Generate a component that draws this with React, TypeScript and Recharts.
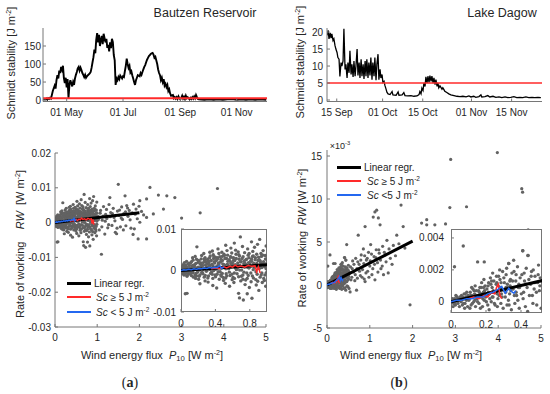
import React from 'react';
import { ComposedChart, Line, Scatter, XAxis, YAxis, ReferenceLine } from 'recharts';

type Pt = [number, number];

// ---------- top row: Schmidt stability [J m-2] vs day of year ----------
const bautzenSc: Pt[] = [
  [95.5, 2], [98, 2], [99, 4], [100, 1], [101, 5], [102, 3], [103, 6], [104, 4], [105, 14], [106, 25],
  [108, 40], [109, 32], [110, 55], [111, 69], [112, 60], [113, 82], [114, 75], [115, 92], [116, 84], [117, 95],
  [118, 61], [119, 47], [120, 62], [121, 35], [122, 58], [123, 6], [124, 42], [125, 55], [127, 38], [128, 50],
  [129, 42], [130, 60], [131, 70], [132, 78], [133, 88], [134, 92], [135, 82], [136, 90], [137, 83], [138, 75],
  [139, 70], [140, 64], [141, 70], [142, 62], [143, 66], [144, 69], [146, 74], [147, 78], [148, 90], [149, 105],
  [150, 119], [151, 140], [152, 130], [153, 167], [154, 186], [155, 160], [156, 181], [157, 150], [158, 167], [159, 178],
  [160, 155], [161, 184], [163, 160], [164, 170], [165, 145], [166, 153], [167, 135], [168, 160], [169, 144], [170, 170],
  [171, 161], [172, 125], [173, 110], [174, 42], [175, 60], [176, 55], [177, 64], [178, 58], [179, 68], [181, 60],
  [182, 66], [183, 64], [184, 80], [185, 95], [186, 115], [187, 100], [188, 89], [189, 95], [190, 76], [191, 80],
  [192, 69], [193, 60], [194, 50], [195, 42], [196, 55], [197, 62], [198, 69], [200, 66], [201, 75], [202, 70],
  [203, 78], [204, 85], [205, 92], [206, 97], [207, 105], [208, 112], [209, 117], [210, 122], [211, 125], [212, 128],
  [213, 130], [214, 131], [215, 126], [216, 117], [217, 120], [219, 100], [220, 85], [221, 75], [222, 69], [223, 55],
  [224, 62], [225, 50], [226, 58], [227, 40], [228, 45], [229, 36], [230, 42], [231, 25], [232, 30], [233, 18],
  [234, 12], [236, 14], [237, 5], [238, 8], [239, 4], [240, 8], [241, 3], [242, 10], [243, 5], [244, 2],
  [245, 6], [246, 12], [247, 4], [248, 9], [249, 3], [250, 12], [251, 5], [252, 8], [254, 2], [255, 6],
  [256, 3], [257, 8], [258, 4], [259, 10], [260, 5], [261, 14], [262, 8], [263, 3], [264, 2], [270, 1],
  [275, 2], [280, 1], [285, 2], [290, 1], [295, 2], [300, 3], [305, 1], [310, 2], [315, 1], [320, 2],
  [325, 1], [330, 2], [337, 1],
];
const bautzenTicks = [121, 182, 244, 305];
const bautzenTickLabels = ['01 May', '01 Jul', '01 Sep', '01 Nov'];

const dagowSc: Pt[] = [
  [254.6, 19], [255.0, 20.5], [255.3, 18], [255.7, 19.8], [256.0, 18.2], [256.3, 19.5], [256.7, 17.5], [257.0, 18],
  [257.4, 16], [257.7, 15], [258.1, 14], [258.4, 12.5], [258.8, 12], [259.1, 6.9], [259.5, 11], [259.8, 10],
  [260.2, 11.5], [260.5, 21], [260.9, 9], [261.2, 10.5], [261.6, 6.5], [261.9, 11], [262.3, 8], [262.6, 14.5],
  [263.0, 7.5], [263.3, 10.5], [263.7, 6.8], [264.0, 11.5], [264.4, 7], [264.7, 10], [265.1, 15], [265.4, 7.2],
  [265.8, 11], [266.1, 6.5], [266.5, 12], [266.8, 7], [267.2, 10.5], [267.5, 6.2], [267.9, 11.5], [268.2, 7],
  [268.5, 12], [268.9, 6.5], [269.2, 11], [269.6, 7.2], [269.9, 12.5], [270.3, 6], [270.6, 11], [271.0, 7],
  [271.3, 12.5], [271.7, 5.8], [272.0, 10.5], [272.4, 13.5], [272.7, 6], [273.1, 9], [273.4, 6.5], [273.8, 7.5],
  [274.1, 5.2], [274.5, 5.5], [274.8, 4.3], [275.2, 3.2], [275.5, 2.3], [275.9, 1.8], [276.6, 1.6], [277.3, 2.5],
  [277.6, 1.5], [278.7, 1.4], [279.4, 2.4], [279.7, 1.4], [280.8, 1.5], [281.4, 2.2], [281.8, 1.3], [282.8, 1.2],
  [283.9, 1.3], [284.9, 1.1], [286.0, 1.2], [286.7, 1.6], [287.0, 2.5], [287.4, 1.8], [287.7, 3.5], [288.1, 2.8],
  [288.4, 5], [288.8, 4], [289.1, 6.8], [289.5, 5], [289.8, 7], [290.2, 5.2], [290.5, 7.2], [290.9, 5.5],
  [291.2, 7], [291.6, 5], [291.9, 6.5], [292.3, 4.5], [292.6, 6], [293.0, 4], [293.3, 5], [293.6, 3.6],
  [294.0, 4.2], [294.7, 3.2], [295.0, 3.6], [295.7, 2.6], [296.4, 2.2], [297.1, 1.8], [297.8, 1.5], [298.9, 1.3],
  [299.9, 1.1], [301.0, 1.0], [302.0, 1.1], [303.1, 0.9], [304.1, 1.2], [304.8, 0.9], [305.8, 1.1], [306.5, 0.8],
  [307.6, 1.0], [308.3, 1.5], [308.6, 0.9], [309.7, 1.0], [310.7, 1.3], [311.4, 0.9], [312.5, 1.1], [313.5, 0.8],
  [314.6, 0.9], [315.6, 0.7], [316.7, 0.9], [317.7, 0.7], [318.7, 0.8], [319.8, 1.0], [320.8, 0.7], [321.9, 0.8],
  [322.9, 0.7], [324.0, 0.9], [325.0, 0.7], [326.1, 0.8], [327.1, 0.7], [328.2, 0.8], [329.2, 0.7],
];
const dagowTicks = [258, 274, 288, 305, 319];
const dagowTickLabels = ['15 Sep', '01 Oct', '15 Oct', '01 Nov', '15 Nov'];
const scThreshold = 5;

// ---------- bottom row: rate of working RW vs wind energy flux P10 [W m-2] ----------
const bautzenRW: Pt[] = [
  [0.01, 0.0002], [0.02, -0.0008], [0.03, 0.0011], [0.015, 0.0005], [0.04, -0.0003], [0.025, 0.0014], [0.035, -0.0011], [0.045, 0.0007], [0.005, -0.0004], [0.04, 0.0019],
  [0.06, 0.0009], [0.07, -0.0014], [0.08, 0.0016], [0.055, -0.0006], [0.09, 0.0003], [0.065, 0.0022], [0.085, -0.0009], [0.095, 0.0012], [0.075, 0.0001], [0.07, -0.0055],
  [0.11, 0.0018], [0.12, -0.0012], [0.13, 0.0006], [0.14, 0.0025], [0.105, -0.0002], [0.125, 0.0011], [0.145, -0.0016], [0.135, 0.0031], [0.115, 0.0004], [0.14, -0.0005],
  [0.16, 0.0014], [0.17, -0.0019], [0.18, 0.0027], [0.19, 0.0002], [0.155, 0.0009], [0.175, -0.0007], [0.185, 0.0057], [0.195, 0.0019], [0.165, 0.0034], [0.18, -0.0013], [0.2, 0.0008],
  [0.21, 0.0023], [0.22, -0.0011], [0.23, 0.0005], [0.24, 0.0036], [0.205, -0.0021], [0.225, 0.0015], [0.245, -0.0004], [0.235, 0.0028], [0.215, 0.0001], [0.24, 0.0011], [0.22, -0.0032],
  [0.26, 0.0019], [0.27, -0.0016], [0.28, 0.0031], [0.29, 0.0007], [0.255, -0.0008], [0.275, 0.0024], [0.295, -0.0002], [0.285, 0.0013], [0.265, 0.0041], [0.28, -0.0025], [0.3, 0.0016],
  [0.31, 0.0027], [0.32, -0.0013], [0.33, 0.0009], [0.34, 0.0035], [0.305, 0.0001], [0.325, 0.0019], [0.345, -0.0007], [0.335, 0.0044], [0.315, -0.0028], [0.34, 0.0012], [0.32, 0.0023],
  [0.36, 0.0015], [0.37, -0.0019], [0.38, 0.0029], [0.39, 0.0006], [0.355, -0.0004], [0.375, 0.0038], [0.395, -0.0011], [0.385, 0.0021], [0.365, 0.0047], [0.38, 0.0], [0.4, 0.0032], [0.37, -0.0036],
  [0.41, 0.0024], [0.42, -0.0009], [0.43, 0.0013], [0.44, 0.0041], [0.405, 0.0003], [0.425, 0.0031], [0.445, -0.0021], [0.435, 0.0018], [0.415, -0.0042], [0.44, 0.0008], [0.43, 0.0052],
  [0.46, 0.0021], [0.47, -0.0014], [0.48, 0.0034], [0.49, 0.0009], [0.455, -0.0003], [0.475, 0.0044], [0.495, -0.0024], [0.485, 0.0016], [0.465, 0.0027], [0.48, -0.0007], [0.5, 0.0039],
  [0.51, 0.0012], [0.52, -0.0018], [0.53, 0.0029], [0.54, 0.0005], [0.505, 0.0036], [0.525, -0.0008], [0.545, 0.0022], [0.535, 0.0048], [0.515, -0.0031], [0.54, 0.0015], [0.52, 0.0061],
  [0.56, 0.0026], [0.57, -0.0012], [0.58, 0.0017], [0.59, 0.0042], [0.555, 0.0004], [0.575, 0.0033], [0.595, -0.0022], [0.585, 0.0009], [0.565, -0.0038], [0.58, 0.0054], [0.6, 0.0019],
  [0.61, 0.0031], [0.62, -0.0006], [0.63, 0.0014], [0.64, 0.0039], [0.605, -0.0017], [0.625, 0.0024], [0.645, 0.0002], [0.635, 0.0049], [0.615, -0.0029], [0.64, 0.0011], [0.62, 0.0066],
  [0.66, 0.0018], [0.67, -0.0015], [0.68, 0.0035], [0.69, 0.0081], [0.655, 0.0006], [0.675, 0.0027], [0.695, -0.0025], [0.685, 0.0012], [0.665, 0.0045], [0.67, -0.0055], [0.7, 0.0021], [0.68, -0.0066],
  [0.71, 0.0029], [0.72, -0.0011], [0.73, 0.0016], [0.74, 0.0043], [0.705, 0.0001], [0.725, -0.0071], [0.745, -0.0034], [0.735, 0.0023], [0.715, 0.0058], [0.74, 0.0008], [0.72, -0.0021],
  [0.76, 0.0014], [0.77, -0.0019], [0.78, 0.0037], [0.79, 0.0006], [0.755, 0.0026], [0.775, 0.0052], [0.795, -0.0041], [0.785, 0.0019], [0.765, -0.0006], [0.79, 0.0031], [0.77, -0.0056],
  [0.81, 0.0023], [0.82, 0.0069], [0.83, -0.0013], [0.84, 0.0035], [0.805, 0.0009], [0.825, -0.0067], [0.845, 0.0017], [0.835, 0.0046], [0.815, -0.0027], [0.84, 0.0002], [0.82, 0.0028],
  [0.86, 0.0015], [0.87, -0.0022], [0.88, 0.0039], [0.89, 0.0008], [0.855, 0.0056], [0.875, -0.0035], [0.895, 0.0024], [0.885, -0.0009], [0.865, 0.0031], [0.89, 0.0063], [0.87, 0.0011],
  [0.91, 0.0026], [0.92, -0.0016], [0.93, 0.0041], [0.94, 0.0007], [0.905, -0.0048], [0.925, 0.0019], [0.945, -0.0029], [0.935, 0.0034], [0.915, 0.0075], [0.94, -0.0006], [0.92, 0.0012],
  [0.96, 0.0021], [0.97, -0.0024], [0.98, 0.0036], [0.99, 0.0004], [0.955, 0.0048], [0.975, -0.0011], [0.995, 0.0027], [0.985, -0.0038], [0.965, 0.0014], [0.99, 0.0059],
  [0.012, 0.0009], [0.022, -0.0002], [0.032, 0.0004], [0.047, -0.0009], [0.052, 0.0013], [0.062, -0.0001], [0.072, 0.0007], [0.082, -0.0004], [0.092, 0.0017], [0.102, 0.0005],
  [0.112, -0.0008], [0.122, 0.0021], [0.132, -0.0003], [0.142, 0.0013], [0.152, 0.0002], [0.162, -0.0011], [0.172, 0.0017], [0.182, 0.0006], [0.192, -0.0004], [0.202, 0.0024],
  [0.212, -0.0014], [0.222, 0.0007], [0.232, 0.0018], [0.242, -0.0006], [0.252, 0.0012], [0.262, 0.0003], [0.272, 0.0028], [0.282, -0.0012], [0.292, 0.0021], [0.302, 0.0008],
  [0.312, -0.0018], [0.322, 0.0014], [0.332, 0.0031], [0.342, 0.0002], [0.352, 0.0024], [0.362, -0.0009], [0.372, 0.0011], [0.382, 0.0034], [0.392, 0.0018], [0.402, -0.0015],
  [0.412, 0.0009], [0.422, 0.0027], [0.432, -0.0003], [0.442, 0.0016], [0.452, 0.0033], [0.462, -0.0011], [0.472, 0.0006], [0.482, 0.0024], [0.492, -0.0017], [0.502, 0.0014],
  [0.512, 0.0029], [0.522, 0.0004], [0.532, -0.0013], [0.542, 0.0037], [0.552, 0.0011], [0.562, -0.0004], [0.572, 0.0022], [0.582, 0.0032], [0.592, -0.0009], [0.602, 0.0013],
  [0.612, 0.0025], [0.622, -0.0019], [0.632, 0.0006], [0.642, 0.0029], [0.652, -0.0008], [0.662, 0.0012], [0.672, 0.0038], [0.682, 0.0001], [0.692, 0.0021], [0.702, -0.0014],
  [0.712, 0.0009], [0.722, 0.0033], [0.732, -0.0004], [0.742, 0.0018], [0.752, -0.0023], [0.762, 0.0027], [0.772, 0.0008], [0.782, -0.0012], [0.792, 0.0041], [0.802, 0.0016],
  [0.812, -0.0006], [0.822, 0.0022], [0.832, 0.0034], [0.842, -0.0018], [0.852, 0.0008], [0.862, 0.0026], [0.872, -0.0003], [0.882, 0.0017], [0.892, -0.0026], [0.902, 0.0032],
  [0.912, 0.0005], [0.922, 0.0023], [0.932, -0.0011], [0.942, 0.0015], [0.952, 0.0037], [0.962, -0.0019], [0.972, 0.0009], [0.982, 0.0028], [0.992, -0.0005], [0.998, 0.0018],
  [1.02, 0.0018], [1.05, -0.0021], [1.08, 0.0035], [1.1, -0.0091], [1.12, 0.0007], [1.15, 0.0046], [1.18, -0.0033], [1.2, 0.0024], [1.23, 0.0012], [1.25, -0.0015],
  [1.28, 0.0052], [1.3, 0.0072], [1.32, 0.0029], [1.35, -0.0008], [1.38, 0.0041], [1.4, 0.0015], [1.43, -0.0028], [1.46, -0.0032], [1.48, 0.0033], [1.5, 0.011],
  [1.52, 0.0021], [1.55, -0.0012], [1.58, 0.0045], [1.6, 0.0009], [1.63, 0.0026], [1.66, 0.0077], [1.68, -0.0009], [1.7, 0.0049], [1.73, 0.0018], [1.76, 0.0035],
  [1.8, -0.0016], [1.83, 0.0028], [1.86, 0.0053], [1.88, -0.0018], [1.92, 0.0039], [1.95, 0.0011], [1.97, -0.0047], [2.01, 0.0063], [2.01, 0.0001], [2.05, 0.0032],
  [1.03, 0.0009], [1.07, 0.0027], [1.11, -0.0012], [1.14, 0.0019], [1.19, 0.0004], [1.22, 0.0038], [1.27, -0.0006], [1.31, 0.0017], [1.36, 0.0026], [1.42, 0.0005],
  [1.47, -0.0016], [1.53, 0.0036], [1.57, 0.0013], [1.62, -0.0021], [1.67, 0.0031], [1.72, 0.0042], [1.78, 0.0008], [1.85, -0.0034], [1.9, 0.0024], [1.99, 0.0047],
  [2.1, 0.0022], [2.17, 0.0068], [2.17, 0.0015], [2.17, -0.0047], [2.25, 0.0101], [2.33, 0.0025], [2.45, 0.0079], [2.57, 0.0039], [2.65, 0.0077], [2.84, 0.0072],
  [3.0, 0.0013], [3.44, 0.0028], [3.85, 0.0098], [0.05, -0.0056],
];
const bautzenRegr: Pt[] = [[0, 0], [2, 0.0028]];
const bautzenHighSc: Pt[] = [
  [0.35, 0.0004], [0.4, 0.0006], [0.45, 0.0005], [0.5, 0.0009], [0.53, 0.0006], [0.57, 0.001], [0.6, 0.0008], [0.63, 0.0013], [0.66, 0.0009],
  [0.7, 0.0011], [0.74, 0.0008], [0.78, 0.0012], [0.82, 0.001], [0.86, 0.0011], [0.88, -0.0003], [0.9, 0.0009], [0.92, -0.0006],
];
const bautzenLowSc: Pt[] = [
  [0, 0], [0.03, 0.0002], [0.06, 0.0001], [0.09, 0.0003], [0.12, 0.0002], [0.15, 0.0004], [0.18, 0.0003], [0.21, 0.0005], [0.24, 0.0004],
  [0.27, 0.0006], [0.3, 0.0005], [0.33, 0.0007], [0.36, 0.0006], [0.39, 0.0008], [0.42, 0.0007], [0.45, 0.0012], [0.47, 0.0005], [0.5, 0.0009],
];

const dagowRW: Pt[] = [
  [0.005, 0.0], [0.01, 0.0001], [0.015, -0.0001], [0.02, 0.0002], [0.025, -0.0002], [0.03, 0.0001], [0.035, 0.0003], [0.04, -0.0001], [0.045, 0.0002], [0.012, -0.0003], [0.028, 0.0004], [0.038, 0.0], [0.048, -0.0003], [0.02, 0.0022],
  [0.055, 0.0001], [0.06, 0.0004], [0.065, -0.0002], [0.07, 0.0002], [0.075, 0.0005], [0.08, -0.0001], [0.085, 0.0003], [0.09, 0.0006], [0.095, -0.0003], [0.058, 0.0], [0.068, 0.0003], [0.078, -0.0004], [0.088, 0.0001], [0.098, 0.0004],
  [0.105, 0.0002], [0.11, 0.0006], [0.115, -0.0002], [0.12, 0.0004], [0.125, 0.0008], [0.13, 0.0], [0.135, 0.0005], [0.14, -0.0003], [0.145, 0.0007], [0.108, -0.0004], [0.118, 0.0009], [0.128, 0.0003], [0.138, 0.001], [0.148, 0.0002],
  [0.155, 0.0004], [0.16, -0.0001], [0.165, 0.0009], [0.17, 0.0003], [0.175, 0.0012], [0.18, -0.0003], [0.185, 0.0006], [0.19, 0.0001], [0.195, 0.001], [0.152, 0.0025], [0.158, 0.0007], [0.168, -0.0004], [0.178, 0.0005], [0.188, 0.0014], [0.198, 0.0003],
  [0.205, 0.0008], [0.21, -0.0002], [0.215, 0.0012], [0.22, 0.0005], [0.225, 0.0015], [0.23, 0.0], [0.235, 0.0009], [0.24, 0.0003], [0.245, 0.0013], [0.208, 0.0004], [0.218, -0.0005], [0.228, 0.0011], [0.238, 0.0018], [0.248, -0.0001], [0.232, 0.0006],
  [0.255, 0.0006], [0.26, 0.0016], [0.265, -0.0003], [0.27, 0.001], [0.275, 0.0004], [0.28, 0.0014], [0.285, -0.0001], [0.29, 0.0008], [0.295, 0.0019], [0.258, 0.0011], [0.268, 0.0002], [0.278, 0.002], [0.288, 0.0005], [0.298, -0.0004], [0.272, 0.0007],
  [0.305, 0.0012], [0.31, 0.0003], [0.315, 0.0017], [0.32, -0.0002], [0.325, 0.0009], [0.33, 0.0024], [0.335, 0.0005], [0.34, 0.0014], [0.345, -0.0005], [0.308, 0.0007], [0.318, 0.0021], [0.328, 0.0001], [0.338, 0.001], [0.348, 0.0018],
  [0.355, 0.0008], [0.36, 0.0019], [0.365, -0.0001], [0.37, 0.0013], [0.375, 0.0004], [0.38, 0.0022], [0.385, 0.0009], [0.39, -0.0004], [0.395, 0.0015], [0.358, 0.0026], [0.372, 0.0006], [0.388, 0.0011],
  [0.405, 0.0017], [0.41, 0.0032], [0.415, 0.0006], [0.42, 0.0013], [0.425, -0.0003], [0.43, 0.0021], [0.435, 0.0009], [0.44, 0.0029], [0.445, 0.0014], [0.412, 0.0002], [0.438, -0.0006],
  [0.455, 0.0011], [0.46, 0.0019], [0.465, 0.0004], [0.47, 0.002], [0.475, 0.0008], [0.48, 0.0016], [0.49, -0.0002], [0.495, 0.0012], [0.5, 0.0023], [0.505, 0.0007], [0.51, 0.0015], [0.515, -0.0004],
  [0.008, 0.0002], [0.018, 0.0], [0.022, -0.0001], [0.032, 0.0002], [0.042, 0.0001], [0.052, 0.0003], [0.062, 0.0002], [0.072, -0.0001], [0.082, 0.0005], [0.092, 0.0002],
  [0.102, 0.0001], [0.112, 0.0004], [0.122, -0.0001], [0.132, 0.0007], [0.142, 0.0004], [0.152, 0.0], [0.162, 0.0006], [0.172, 0.0009], [0.182, 0.0002], [0.192, 0.0007],
  [0.202, 0.0], [0.212, 0.001], [0.222, 0.0002], [0.232, 0.0013], [0.242, 0.0007], [0.252, -0.0002], [0.262, 0.0012], [0.272, 0.0016], [0.282, 0.0009], [0.292, 0.0003],
  [0.302, 0.0015], [0.312, 0.0006], [0.322, 0.0011], [0.332, -0.0002], [0.342, 0.0007], [0.352, 0.0013], [0.362, 0.0004], [0.372, 0.0017], [0.382, 0.0001], [0.392, 0.0009],
  [0.402, 0.0005], [0.418, 0.0018], [0.428, 0.0011], [0.448, 0.0004], [0.458, 0.0016], [0.468, -0.0001], [0.478, 0.0012], [0.488, 0.0006], [0.498, 0.0017], [0.508, 0.001],
  [0.114, 0.0003], [0.136, 0.0001], [0.164, 0.0003], [0.186, 0.0009], [0.214, 0.0006], [0.236, 0.0003], [0.264, 0.0005], [0.286, 0.0012], [0.314, 0.0009], [0.336, 0.0013],
  [0.54, -0.0008], [0.55, 0.0021], [0.58, 0.0009], [0.6, 0.0028], [0.62, 0.0015], [0.65, 0.0005], [0.67, 0.0031], [0.69, -0.0006], [0.7, 0.0019], [0.73, 0.0058],
  [0.75, 0.0024], [0.78, 0.0011], [0.8, 0.0035], [0.83, 0.0018], [0.85, 0.0042], [0.87, 0.0007], [0.89, 0.0068], [0.89, 0.0004], [0.92, 0.0029], [0.95, 0.0016],
  [0.97, 0.0038], [1.0, 0.0022], [1.02, 0.0047], [1.05, 0.0012], [1.08, 0.0079], [1.1, 0.0033], [1.12, 0.0006], [1.12, 0.0085], [1.15, 0.0041], [1.16, 0.0087],
  [1.18, 0.0026], [1.2, 0.0078], [1.22, 0.0037], [1.24, 0.007], [1.26, 0.0019], [1.3, 0.0045], [1.32, 0.0012], [1.36, 0.0035], [1.4, 0.0052], [1.43, 0.0014],
  [0.52, 0.0013], [0.56, 0.0006], [0.59, 0.0019], [0.63, 0.0024], [0.66, 0.0012], [0.71, 0.0008], [0.72, 0.0027], [0.76, 0.0016], [0.79, 0.0029], [0.82, 0.0009],
  [0.86, 0.0025], [0.88, 0.0034], [0.91, 0.0014], [0.94, 0.0031], [0.98, 0.0009], [1.01, 0.0028], [1.04, 0.0036], [1.07, 0.0019], [1.11, 0.0024], [1.14, 0.0032],
  [1.19, 0.0015], [1.21, 0.0041], [1.25, 0.0029], [1.29, 0.0022], [1.34, 0.0038], [1.38, 0.0027], [1.45, 0.0042], [1.52, 0.0024], [1.6, 0.0034], [1.68, 0.0048],
  [1.48, 0.0031], [1.55, 0.0046], [1.63, 0.0058], [1.73, 0.0093], [1.78, 0.0068], [1.82, 0.0043], [1.94, -0.0023], [2.21, 0.0072], [2.33, 0.0076], [2.33, 0.007],
  [2.52, 0.007], [2.77, 0.0071], [2.87, 0.009], [2.89, 0.0146], [3.26, 0.0091], [3.98, 0.0154], [4.55, 0.0112], [4.57, 0.0108], [4.7, 0.0064], [0.46, 0.0047],
  [0.07, 0.0035], [0.19, 0.0025], [0.33, 0.0024], [0.41, 0.0032], [0.44, 0.0029],
];
const dagowRegr: Pt[] = [[0, 0], [2, 0.0051]];
const dagowHighSc: Pt[] = [
  [0.1, 0.0002], [0.13, 0.0003], [0.16, 0.0002], [0.19, 0.0004], [0.21, 0.0003], [0.23, 0.0006], [0.25, 0.0005], [0.26, 0.0009], [0.27, 0.0011], [0.28, 0.0004], [0.29, 0.0002],
];
const dagowLowSc: Pt[] = [
  [0, 0], [0.03, 0.0001], [0.06, 0.0001], [0.09, 0.0002], [0.12, 0.0002], [0.15, 0.0003], [0.18, 0.0003], [0.21, 0.0005], [0.24, 0.0006],
  [0.27, 0.0008], [0.29, 0.00096], [0.31, 0.00054], [0.33, 0.00085], [0.35, 0.0006], [0.36, 0.00054], [0.37, 0.0007],
];

const p10Ticks = [0, 1, 2, 3, 4, 5];
const bautzenRWTicks = [-0.03, -0.02, -0.01, 0, 0.01, 0.02];
const dagowRWTicks = [-0.005, 0, 0.005, 0.01, 0.015];

// ---------- layout ----------
const W = 550;
const H = 394;
const Y_W = 30;
const X_H = 20;
const FONT = '"Liberation Sans", Arial, Helvetica, sans-serif';
const AXIS = '#767676';
const INK = '#262626';
const RED = '#ff2a2a';
const BLUE = '#2468f0';
const tick = { fontSize: 10, fill: INK, fontFamily: FONT };

const xy = (pts: Pt[]) => pts.map(([x, y]) => ({ x, y }));
const inside = (pts: Pt[], xd: number[], yd: number[]) =>
  pts.filter(([x, y]) => x >= xd[0] && x <= xd[1] && y >= yd[0] && y <= yd[1]);
const dot = (r: number) => (p: any) => <circle cx={p.cx} cy={p.cy} r={r} fill="#626262" />;

// one plot area; "bare" draws only the series (used to stack lines above the dots)
function Panel(props: any) {
  const { box, xDomain, yDomain, xTicks, yTicks, xFmt, yFmt, xMargin, yMargin, axisLine = true, bare = false, children } = props;
  const [l, t, r, b] = box;
  return (
    <div style={{ position: 'absolute', left: 0, top: 0 }}>
      <ComposedChart width={W} height={H} margin={{ left: l - Y_W, top: t, right: W - r, bottom: H - b - X_H }}>
        <XAxis type="number" dataKey="x" domain={xDomain} ticks={xTicks} tickFormatter={xFmt} interval={0}
          allowDataOverflow height={X_H} tickSize={-3} tickMargin={xMargin} stroke={AXIS}
          axisLine={!bare && axisLine} tickLine={!bare} tick={bare ? false : tick} />
        <YAxis type="number" dataKey="y" domain={yDomain} ticks={yTicks} tickFormatter={yFmt} interval={0}
          allowDataOverflow width={Y_W} tickSize={-3} tickMargin={yMargin} stroke={AXIS}
          axisLine={!bare && axisLine} tickLine={!bare} tick={bare ? false : tick} />
        {children}
      </ComposedChart>
    </div>
  );
}

const Fits = ({ regr, high, low }: any) => [
  <Line key="r" data={xy(regr)} dataKey="y" stroke="#000" strokeWidth={3} dot={false} isAnimationActive={false} />,
  <Line key="h" data={xy(high)} dataKey="y" stroke={RED} strokeWidth={1.5} dot={false} isAnimationActive={false} />,
  <Line key="l" data={xy(low)} dataKey="y" stroke={BLUE} strokeWidth={1.5} dot={false} isAnimationActive={false} />,
];

const Txt = ({ x, y, size = 11, rot = false, family = FONT, children }: any) => (
  <div style={{
    position: 'absolute', left: x, top: y, whiteSpace: 'nowrap', fontSize: size, fontFamily: family, color: INK,
    lineHeight: 1, transform: `translate(-50%, -50%)${rot ? ' rotate(-90deg)' : ''}`,
  }}>{children}</div>
);

const sup = { fontSize: '0.65em', verticalAlign: '0.55em', lineHeight: 0 };
const sub = { fontSize: '0.7em', verticalAlign: '-0.35em', lineHeight: 0 };
const Unit = ({ u }: any) => <span>[{u} m<span style={sup}>-2</span>]</span>;

const LegendRow = ({ x, y, color, thick, gap, children }: any) => (
  <div style={{ position: 'absolute', left: x, top: y - 7, height: 14, display: 'flex', alignItems: 'center',
    fontSize: 10, fontFamily: FONT, color: INK, whiteSpace: 'nowrap' }}>
    <span style={{ display: 'inline-block', width: 24, height: thick, background: color, marginRight: gap }} />
    <span>{children}</span>
  </div>
);

const InsetFrame = ({ box }: any) => (
  <div style={{ position: 'absolute', left: box[0], top: box[1], width: box[2] - box[0], height: box[3] - box[1],
    background: '#fff', boxShadow: `inset 0 0 0 1px ${AXIS}` }} />
);

const mainABox = [55, 153, 266, 327];
const mainAX = [0, 5];
const mainAY = [-0.03, 0.02];
const mainBBox = [327, 150, 541, 328];
const mainBX = [0, 5];
const mainBY = [-0.005, 0.0157];
const insetABox = [181, 229, 267, 312];
const insetAX = [0, 1];
const insetAY = [-0.01, 0.01];
const insetBBox = [451, 229, 542, 313];
const insetBX = [0, 0.52];
const insetBY = [-0.0007, 0.00456];

export default function App() {
  return (
    <div style={{ position: 'absolute', left: 0, top: 0, width: W, height: H, background: '#fff', overflow: 'hidden' }}>
      {/* Bautzen time series */}
      <Panel box={[43, 28, 267, 101.5]} xDomain={[95.4, 337.8]} yDomain={[-4, 200]} xTicks={bautzenTicks}
        xFmt={(v: number) => bautzenTickLabels[bautzenTicks.indexOf(v)]} yTicks={[0, 50, 100, 150]} xMargin={10} yMargin={5}>
        <Line data={xy(bautzenSc)} dataKey="y" type="linear" stroke="#000" strokeWidth={1.9} dot={false} isAnimationActive={false} />
        <ReferenceLine y={scThreshold} stroke={RED} strokeWidth={1.8} />
      </Panel>
      {/* Dagow time series */}
      <Panel box={[327, 28, 542, 101.5]} xDomain={[254.6, 329.6]} yDomain={[-0.44, 21.2]} xTicks={dagowTicks}
        xFmt={(v: number) => dagowTickLabels[dagowTicks.indexOf(v)]} yTicks={[0, 5, 10, 15, 20]} xMargin={10} yMargin={7}>
        <Line data={xy(dagowSc)} dataKey="y" type="linear" stroke="#000" strokeWidth={1.3} dot={false} isAnimationActive={false} />
        <ReferenceLine y={scThreshold} stroke={RED} strokeWidth={1.6} />
      </Panel>

      {/* Bautzen scatter */}
      <Panel box={mainABox} xDomain={mainAX} yDomain={mainAY} xTicks={p10Ticks} yTicks={bautzenRWTicks}
        yFmt={(v: number) => String(v)} xMargin={10} yMargin={7}>
        <Scatter data={xy(bautzenRW)} shape={dot(1.6)} isAnimationActive={false} />
      </Panel>
      <Panel bare box={mainABox} xDomain={mainAX} yDomain={mainAY}>
        {Fits({ regr: bautzenRegr, high: bautzenHighSc, low: bautzenLowSc })}
      </Panel>
      {/* Dagow scatter */}
      <Panel box={mainBBox} xDomain={mainBX} yDomain={mainBY} xTicks={p10Ticks} yTicks={dagowRWTicks}
        yFmt={(v: number) => String(Math.round(v * 1000))} xMargin={10} yMargin={8}>
        <Scatter data={xy(dagowRW)} shape={dot(1.6)} isAnimationActive={false} />
      </Panel>
      <Panel bare box={mainBBox} xDomain={mainBX} yDomain={mainBY}>
        {Fits({ regr: dagowRegr, high: dagowHighSc, low: dagowLowSc })}
      </Panel>

      {/* insets */}
      <InsetFrame box={insetABox} />
      <Panel box={insetABox} xDomain={insetAX} yDomain={insetAY} xTicks={[0, 0.4, 0.8]} yTicks={[-0.01, 0, 0.01]}
        yFmt={(v: number) => String(v)} xMargin={11} yMargin={8} axisLine={false}>
        <Scatter data={xy(inside(bautzenRW, insetAX, insetAY))} shape={dot(1.7)} isAnimationActive={false} />
      </Panel>
      <Panel bare box={insetABox} xDomain={insetAX} yDomain={insetAY}>
        {Fits({ regr: bautzenRegr, high: bautzenHighSc, low: bautzenLowSc })}
      </Panel>
      <InsetFrame box={insetBBox} />
      <Panel box={insetBBox} xDomain={insetBX} yDomain={insetBY} xTicks={[0, 0.2, 0.4]} yTicks={[0, 0.002, 0.004]}
        yFmt={(v: number) => String(v)} xMargin={11} yMargin={10} axisLine={false}>
        <Scatter data={xy(inside(dagowRW, insetBX, insetBY))} shape={dot(1.7)} isAnimationActive={false} />
      </Panel>
      <Panel bare box={insetBBox} xDomain={insetBX} yDomain={insetBY}>
        {Fits({ regr: dagowRegr, high: dagowHighSc, low: dagowLowSc })}
      </Panel>

      {/* legends */}
      <LegendRow x={67} y={283} color="#000" thick={3} gap={3}>Linear regr.</LegendRow>
      <LegendRow x={67} y={297} color={RED} thick={1.6} gap={5}><i>Sc</i> ≥ 5 J m<span style={sup}>-2</span></LegendRow>
      <LegendRow x={67} y={312} color={BLUE} thick={1.6} gap={5}><i>Sc</i> &lt; 5 J m<span style={sup}>-2</span></LegendRow>
      <LegendRow x={337} y={167} color="#000" thick={3} gap={3}>Linear regr.</LegendRow>
      <LegendRow x={337} y={181} color={RED} thick={1.6} gap={6}><i>Sc</i> ≥ 5 J m<span style={sup}>-2</span></LegendRow>
      <LegendRow x={337} y={195} color={BLUE} thick={1.6} gap={6}><i>Sc</i> &lt;5 J m<span style={sup}>-2</span></LegendRow>

      {/* titles and axis labels */}
      <Txt x={205} y={13} size={12.5}>Bautzen Reservoir</Txt>
      <Txt x={502} y={13} size={12.5}>Lake Dagow</Txt>
      <Txt x={11} y={63} rot>Schmidt stability <Unit u="J" /></Txt>
      <Txt x={300} y={62} rot>Schmidt stability <Unit u="J" /></Txt>
      <Txt x={20} y={244} rot>Rate of working &nbsp;&nbsp;&nbsp;<i>RW</i> &nbsp;<Unit u="W" /></Txt>
      <Txt x={302} y={238} rot>Rate of working &nbsp;<i>RW</i> <Unit u="W" /></Txt>
      <Txt x={340} y={146} size={9}>×10<span style={sup}>-3</span></Txt>
      <Txt x={152} y={355}>Wind energy flux &nbsp;<i>P</i><span style={sub}>10</span> <Unit u="W" /></Txt>
      <Txt x={411} y={355}>Wind energy flux &nbsp;<i>P</i><span style={sub}>10</span> <Unit u="W" /></Txt>
      <Txt x={130} y={383} size={14} family='"Liberation Serif", "Times New Roman", serif'>(<b>a</b>)</Txt>
      <Txt x={399} y={383} size={14} family='"Liberation Serif", "Times New Roman", serif'>(<b>b</b>)</Txt>
    </div>
  );
}
